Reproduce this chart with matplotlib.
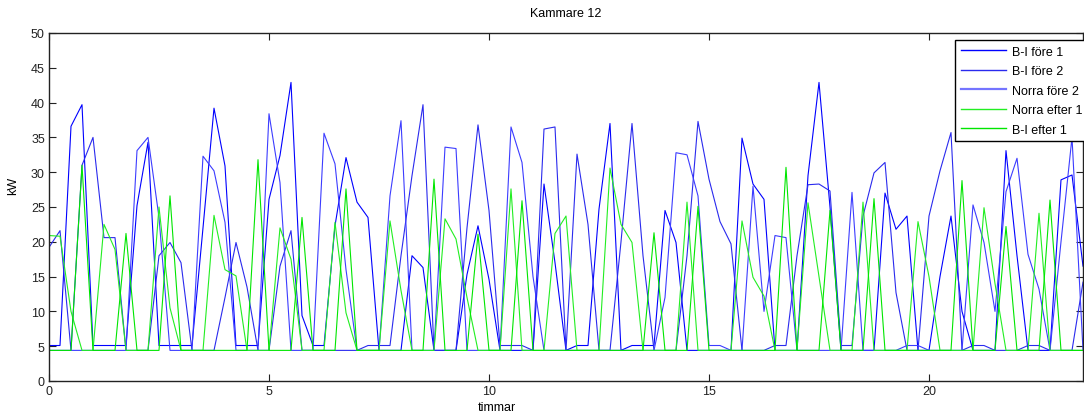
import matplotlib
matplotlib.use("Agg")
import matplotlib.pyplot as plt
import numpy as np

plt.rcParams['font.family'] = ['Liberation Sans', 'DejaVu Sans']

# kW readings every quarter hour
bi_fore_1 = [5.1, 5.1, 36.6, 39.7, 5.1, 5.1, 5.1, 5.1, 25.2, 34.3,
             5.1, 5.1, 5.1, 5.1, 22.0, 39.2, 30.9, 5.1, 5.1, 5.1,
             26.1, 32.4, 42.9, 9.4, 5.1, 5.1, 22.3, 32.1, 25.7, 23.5,
             4.4, 4.4, 4.4, 18.0, 16.3, 4.4, 4.4, 4.4, 15.3, 22.3,
             14.6, 4.4, 4.4, 4.4, 4.4, 28.3, 17.0, 4.4, 5.1, 5.1,
             24.7, 37.0, 4.4, 5.1, 5.1, 5.1, 24.5, 19.9, 4.4, 4.4,
             4.4, 4.4, 4.4, 34.9, 28.3, 26.1, 4.4, 4.4, 4.4, 29.5,
             42.9, 25.0, 4.4, 4.4, 4.4, 4.4, 27.0, 21.8, 23.7, 4.4,
             4.4, 15.0, 23.7, 10.0, 4.4, 4.4, 4.4, 33.1, 18.0, 4.4,
             4.4, 4.4, 28.9, 29.6, 16.5]
bi_fore_2 = [19.2, 21.6, 4.4, 31.0, 35.0, 20.6, 20.6, 4.4, 4.4, 4.4,
             18.0, 19.9, 17.0, 4.4, 4.4, 4.4, 12.0, 19.9, 13.5, 4.4,
             4.4, 16.5, 21.6, 4.4, 4.4, 4.4, 4.4, 4.4, 4.4, 5.1,
             5.1, 5.1, 18.0, 29.5, 39.7, 4.4, 4.4, 4.4, 22.0, 36.8,
             24.5, 5.1, 5.1, 5.1, 4.4, 36.2, 36.5, 4.4, 32.6, 22.5,
             4.4, 4.4, 20.0, 37.0, 18.0, 4.4, 4.4, 4.4, 18.0, 37.3,
             29.0, 22.9, 19.7, 4.4, 4.4, 4.4, 5.1, 5.1, 18.0, 28.2,
             28.3, 27.3, 5.1, 5.1, 23.7, 29.9, 31.4, 12.7, 4.4, 4.4,
             23.7, 30.2, 35.7, 4.4, 5.1, 5.1, 4.4, 4.4, 4.4, 5.1,
             5.1, 4.4, 4.4, 4.4, 14.2]
norra_fore_2 = [4.4, 4.4, 4.4, 4.4, 4.4, 4.4, 4.4, 4.4, 33.1, 35.0,
                23.5, 4.4, 4.4, 4.4, 32.3, 30.2, 22.8, 4.4, 4.4, 4.4,
                38.4, 28.5, 4.4, 4.4, 4.4, 35.6, 31.2, 16.0, 4.4, 4.4,
                4.4, 26.6, 37.4, 4.4, 4.4, 4.4, 33.6, 33.4, 4.4, 4.4,
                4.4, 4.4, 36.5, 31.4, 15.0, 4.4, 4.4, 4.4, 4.4, 4.4,
                4.4, 4.4, 4.4, 4.4, 4.4, 4.4, 12.0, 32.8, 32.5, 26.6,
                5.1, 5.1, 4.4, 4.4, 28.0, 10.0, 20.9, 20.6, 4.4, 4.4,
                4.4, 4.4, 4.4, 27.1, 4.4, 4.4, 4.4, 4.4, 5.1, 5.1,
                4.4, 4.4, 4.4, 4.4, 25.3, 19.9, 10.0, 27.2, 32.0, 18.2,
                13.2, 4.4, 20.0, 35.0, 4.4]
norra_efter_1 = [20.9, 20.8, 10.0, 4.4, 4.4, 22.5, 18.9, 4.4, 4.4, 4.4,
                 25.0, 10.5, 4.4, 4.4, 4.4, 23.8, 16.0, 15.1, 4.4, 4.4,
                 4.4, 22.0, 17.5, 4.4, 4.4, 4.4, 22.8, 9.8, 4.4, 4.4,
                 4.4, 23.0, 13.0, 4.4, 4.4, 4.4, 23.3, 20.4, 12.0, 4.4,
                 4.4, 4.4, 27.6, 4.4, 4.4, 4.4, 21.2, 23.7, 4.4, 4.4,
                 4.4, 30.6, 22.5, 19.9, 4.4, 4.4, 4.4, 4.4, 25.7, 4.4,
                 4.4, 4.4, 4.4, 23.0, 14.9, 12.2, 4.4, 4.4, 4.4, 25.6,
                 15.0, 4.4, 4.4, 4.4, 25.7, 4.4, 4.4, 4.4, 4.4, 22.9,
                 15.0, 4.4, 4.4, 4.4, 4.4, 24.9, 14.0, 4.4, 4.4, 4.4,
                 24.1, 4.4, 4.4, 4.4, 4.4]
bi_efter_1 = [4.4, 4.4, 4.4, 31.0, 4.4, 4.4, 4.4, 21.2, 4.4, 4.4,
              4.4, 26.6, 4.4, 4.4, 4.4, 4.4, 4.4, 4.4, 4.4, 31.8,
              4.4, 4.4, 4.4, 23.5, 4.4, 4.4, 4.4, 27.6, 4.4, 4.4,
              4.4, 4.4, 4.4, 4.4, 4.4, 29.0, 4.4, 4.4, 4.4, 21.1,
              4.4, 4.4, 4.4, 25.9, 4.4, 4.4, 4.4, 4.4, 4.4, 4.4,
              4.4, 4.4, 4.4, 4.4, 4.4, 21.3, 4.4, 4.4, 4.4, 25.1,
              4.4, 4.4, 4.4, 4.4, 4.4, 4.4, 4.4, 30.7, 4.4, 4.4,
              4.4, 24.5, 4.4, 4.4, 4.4, 26.2, 4.4, 4.4, 4.4, 4.4,
              4.4, 4.4, 4.4, 28.8, 4.4, 4.4, 4.4, 22.2, 4.4, 4.4,
              4.4, 26.0, 4.4, 4.4, 4.4]

timmar = np.arange(len(bi_fore_1)) * 0.25

fig = plt.figure(figsize=(10.84, 4.14), dpi=100)
ax = fig.add_axes([49/1084, 1 - 382/414, 1034/1084, 348/414])

ax.plot(timmar, bi_fore_1, color='#0000ff', lw=0.8, label='B-I före 1')
ax.plot(timmar, bi_fore_2, color='#2a2aee', lw=0.8, label='B-I före 2')
ax.plot(timmar, norra_fore_2, color='#3c3cff', lw=0.8, label='Norra före 2')
ax.plot(timmar, norra_efter_1, color='#22ee22', lw=0.8, label='Norra efter 1')
ax.plot(timmar, bi_efter_1, color='#00e600', lw=0.8, label='B-I efter 1')

ax.set_xlim(0, 23.5)
ax.set_ylim(0, 50)
ax.set_xticks([0, 5, 10, 15, 20])
ax.set_yticks(np.arange(0, 51, 5))
ax.tick_params(direction='in', top=True, right=True, length=5, width=0.8,
               labelsize=9, colors='#222222', pad=3)
for s in ax.spines.values():
    s.set_linewidth(1.0)
    s.set_color('#222222')

ax.set_title('Kammare 12', fontsize=9, pad=12)
fig.text(497/1084, 1 - 402/414, 'timmar', ha='center', va='top', fontsize=9)
fig.text(13/1084, 1 - 186/414, 'kW', ha='center', va='center', rotation=90, fontsize=9)

leg = ax.legend(loc='upper right', fontsize=9, fancybox=False, framealpha=1,
                edgecolor='black', bbox_to_anchor=(1088/1084, 1 - 41/414),
                bbox_transform=fig.transFigure, borderaxespad=0,
                handlelength=3.6, handletextpad=0.5,
                labelspacing=0.6, borderpad=0.45)
leg.get_frame().set_linewidth(1.0)
for line in leg.get_lines():
    line.set_linewidth(1.0)
leg.get_lines()[2].set_color('#7474ff')
leg.get_lines()[2].set_linewidth(1.6)

plt.savefig('out.png', dpi=100)
